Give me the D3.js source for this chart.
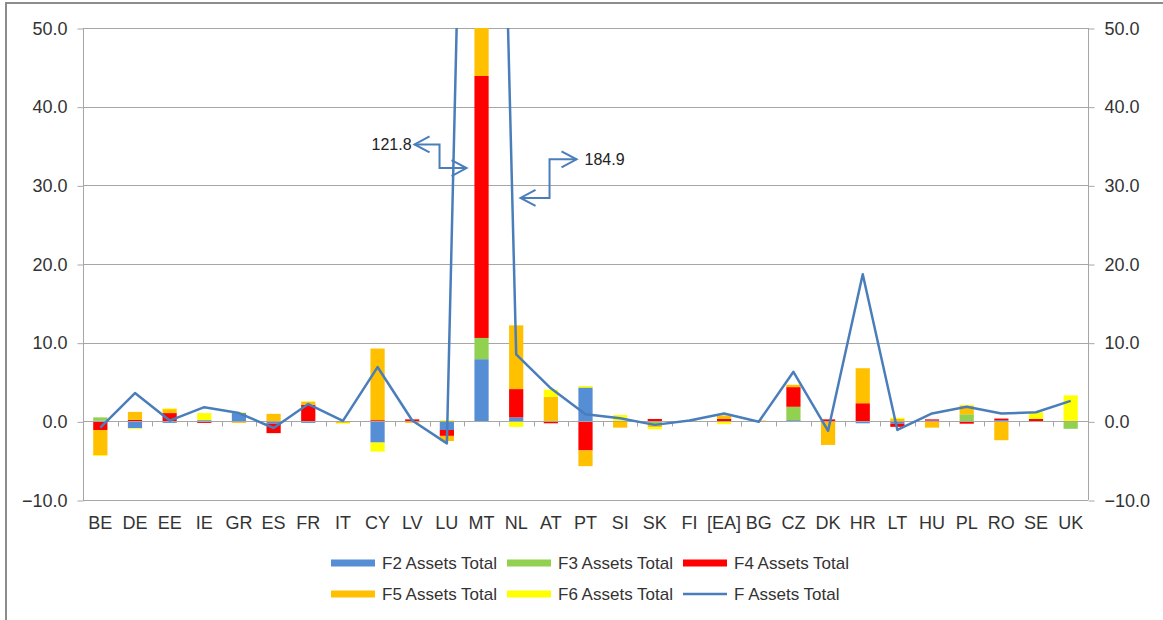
<!DOCTYPE html>
<html>
<head>
<meta charset="utf-8">
<script src="https://cdn.jsdelivr.net/npm/d3@7"></script>
<style>
  html, body { margin: 0; padding: 0; background: #fff; }
  svg { display: block; font-family: "Liberation Sans", Arial, sans-serif; }
</style>
</head>
<body>
<svg id="chart" width="1163" height="620"></svg>
<script>
// Financial assets by instrument, by country
const categories = ["BE","DE","EE","IE","GR","ES","FR","IT","CY","LV","LU","MT","NL","AT","PT","SI","SK","FI","[EA]","BG","CZ","DK","HR","LT","HU","PL","RO","SE","UK"];

const f2 = [0.1,-0.85,-0.2,0.15,1.05,-0.3,-0.2,0,-2.7,0,-1.1,7.9,0.5,0,4.3,0,0,0,0,0,0.15,0,-0.25,-0.3,0.1,0,0.15,0,0];
const f3 = [0.4,0,0,0,0,0,0,0,0,0,0,2.7,0,0,0,0,-0.45,0,0,0,1.7,0,0,0,0,0.9,0,0,-0.95];
const f4 = [-1.1,0.2,1.05,-0.2,0,-1.2,2.1,0,0.15,0.25,-0.75,33.3,3.6,-0.25,-3.7,0,0.3,0,0.3,0,2.5,0.25,2.3,-0.4,0.15,-0.3,0.2,0.3,0];
const f5 = [-3.2,1.0,0.5,0,-0.2,0.95,0.4,-0.2,9.1,-0.2,-0.65,77.9,8.1,3.1,-2.0,-0.8,-0.3,0.15,0.45,0.1,0.3,-3.0,4.45,0.3,-0.8,1.1,-2.4,0,0];
const f6 = [-0.1,-0.1,0.1,0.9,0.1,0,0.05,-0.1,-1.15,0,0.15,0,-0.7,0.93,0.2,0.8,-0.25,0,-0.35,0,0,0,0,0.15,0,0.1,0,0.85,3.3];
const fTotal = [-0.8,3.6,0.1,1.8,1.05,-0.85,2.2,0.05,6.9,0.1,-2.8,184.9,8.5,4.2,0.9,0.4,-0.45,0.1,1.0,-0.05,6.3,-1.2,18.7,-1.1,1.0,1.85,1.0,1.15,2.6];

const seriesNames = ["F2 Assets Total","F3 Assets Total","F4 Assets Total","F5 Assets Total","F6 Assets Total"];
const lineName = "F Assets Total";
const yTicks = [-10,0,10,20,30,40,50];

// Off-scale values written next to the MT peak
const calloutValues = [121.8, 184.9];

const colors = ["#558ED5","#92D050","#FF0000","#FFC000","#FFFF00"];
const lineColor = "#4A7EBB";
const gridColor = "#A6A6A6";
const textColor = "#333333";

const svg = d3.select("#chart");
const W = 1163, H = 620;
const plot = { left: 83, right: 1088, top: 28, bottom: 500 };

// outer frame
svg.append("rect")
  .attr("x", 6).attr("y", 3)
  .attr("width", W + 20).attr("height", H + 20)
  .attr("fill", "none").attr("stroke", "#8C8C8C").attr("stroke-width", 2);

const x = d3.scaleBand().domain(categories).range([plot.left, plot.right]).paddingInner(0).paddingOuter(0);
const y = d3.scaleLinear().domain([-10, 50]).range([plot.bottom, plot.top]);
const barW = x.bandwidth() * 0.41;

// gridlines
svg.append("g").selectAll("line").data(yTicks).join("line")
  .attr("x1", plot.left).attr("x2", plot.right)
  .attr("y1", d => Math.round(y(d)) + 0.5).attr("y2", d => Math.round(y(d)) + 0.5)
  .attr("stroke", gridColor).attr("stroke-width", 1);

// clip region for marks
svg.append("clipPath").attr("id", "plotClip")
  .append("rect").attr("x", plot.left).attr("y", plot.top)
  .attr("width", plot.right - plot.left).attr("height", plot.bottom - plot.top);

// stacked bars (diverging)
const rows = categories.map((c, i) => ({ cat: c, s0: f2[i], s1: f3[i], s2: f4[i], s3: f5[i], s4: f6[i] }));
const stack = d3.stack().keys(["s0","s1","s2","s3","s4"]).offset(d3.stackOffsetDiverging);
const stacked = stack(rows);

const barsG = svg.append("g").attr("clip-path", "url(#plotClip)");
stacked.forEach((layer, k) => {
  barsG.append("g").attr("fill", colors[k])
    .selectAll("rect").data(layer).join("rect")
    .attr("x", d => x(d.data.cat) + (x.bandwidth() - barW) / 2)
    .attr("width", barW)
    .attr("y", d => y(Math.max(d[0], d[1])))
    .attr("height", d => Math.abs(y(d[0]) - y(d[1])));
});

// axes lines
const axisG = svg.append("g").attr("stroke", gridColor).attr("stroke-width", 1);
axisG.append("line").attr("x1", plot.left + 0.5).attr("x2", plot.left + 0.5).attr("y1", plot.top).attr("y2", plot.bottom);
axisG.append("line").attr("x1", plot.right + 0.5).attr("x2", plot.right + 0.5).attr("y1", plot.top).attr("y2", plot.bottom);

// left / right y axes with D3 axis generators
const leftAxis = d3.axisLeft(y).tickValues(yTicks).tickFormat(d3.format(".1f")).tickSize(6).tickPadding(10);
const rightAxis = d3.axisRight(y).tickValues(yTicks).tickFormat(d3.format(".1f")).tickSize(6).tickPadding(10);

function styleAxis(g) {
  g.select(".domain").remove();
  g.selectAll(".tick line").attr("stroke", gridColor);
  g.selectAll(".tick text").attr("fill", textColor).style("font-size", "18px")
    .style("font-family", "'Liberation Sans', Arial, sans-serif");
}
svg.append("g").attr("transform", `translate(${plot.left + 0.5},0.5)`).call(leftAxis).call(styleAxis);
svg.append("g").attr("transform", `translate(${plot.right + 0.5},0.5)`).call(rightAxis).call(styleAxis);

// category axis on the zero line
const y0 = Math.round(y(0)) + 0.5;
const bounds = categories.map(c => x(c)).concat([plot.right]);
svg.append("g").selectAll("line").data(bounds.slice(1, -1)).join("line")
  .attr("x1", d => Math.round(d) + 0.5).attr("x2", d => Math.round(d) + 0.5)
  .attr("y1", y0).attr("y2", y0 + 5)
  .attr("stroke", gridColor);
svg.append("line").attr("x1", plot.left).attr("x2", plot.right).attr("y1", y0).attr("y2", y0)
  .attr("stroke", gridColor);

svg.append("g").selectAll("text").data(categories).join("text")
  .attr("x", d => x(d) + x.bandwidth() / 2)
  .attr("y", plot.bottom + 29)
  .attr("text-anchor", "middle")
  .attr("fill", textColor).style("font-size", "18px")
  .text(d => d);

// total line
const line = d3.line()
  .x((d, i) => x(categories[i]) + x.bandwidth() / 2)
  .y(d => y(d));
svg.append("g").attr("clip-path", "url(#plotClip)")
  .append("path").datum(fTotal)
  .attr("d", line)
  .attr("fill", "none").attr("stroke", lineColor).attr("stroke-width", 2.5)
  .attr("stroke-linejoin", "round");

// callouts for the off-scale peak
const cxMT = x("MT") + x.bandwidth() / 2;
function bentArrow(points) {
  const g = svg.append("g").attr("fill", "none").attr("stroke", lineColor).attr("stroke-width", 2).attr("stroke-linejoin", "miter");
  g.append("path").attr("d", d3.line()(points));
  const head = (tip, from) => {
    const dx = Math.sign(from[0] - tip[0]);
    g.append("path").attr("d", d3.line()([[tip[0] + dx * 15, tip[1] - 8], tip, [tip[0] + dx * 15, tip[1] + 8]]));
  };
  head(points[0], points[1]);
  head(points[points.length - 1], points[points.length - 2]);
}
bentArrow([[cxMT - 67, y(35.2)], [cxMT - 42, y(35.2)], [cxMT - 42, y(32.2)], [cxMT - 15, y(32.2)]]);
bentArrow([[cxMT + 95, y(33.3)], [cxMT + 68, y(33.3)], [cxMT + 68, y(28.4)], [cxMT + 39, y(28.4)]]);

svg.append("text").attr("x", cxMT - 70).attr("y", y(35.2) + 6)
  .attr("text-anchor", "end").attr("fill", "#222").style("font-size", "16px")
  .text(calloutValues[0].toFixed(1));
svg.append("text").attr("x", cxMT + 103).attr("y", y(33.3) + 6)
  .attr("text-anchor", "start").attr("fill", "#222").style("font-size", "16px")
  .text(calloutValues[1].toFixed(1));

// legend
const legendItems = seriesNames.map((n, i) => ({ name: n, color: colors[i], type: "bar" }))
  .concat([{ name: lineName, color: lineColor, type: "line" }]);
const colX = [331, 507, 683];
const rowY = [563, 594];
const lg = svg.append("g");
legendItems.forEach((d, i) => {
  const cx = colX[i % 3], cy = rowY[Math.floor(i / 3)];
  if (d.type === "bar") {
    lg.append("rect").attr("x", cx).attr("y", cy - 3.5).attr("width", 44).attr("height", 7).attr("fill", d.color);
  } else {
    lg.append("line").attr("x1", cx).attr("x2", cx + 44).attr("y1", cy).attr("y2", cy)
      .attr("stroke", d.color).attr("stroke-width", 2.5);
  }
  lg.append("text").attr("x", cx + 51).attr("y", cy + 6)
    .attr("fill", textColor).style("font-size", "17px").text(d.name);
});
</script>
</body>
</html>
